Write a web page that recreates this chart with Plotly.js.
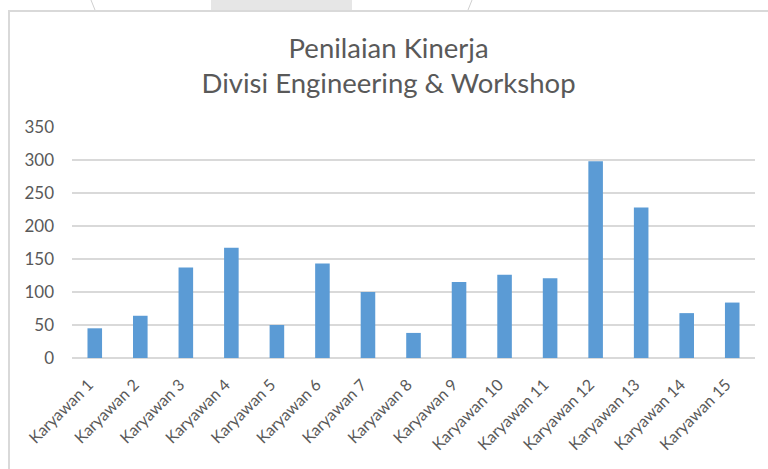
<!DOCTYPE html>
<html>
<head>
<meta charset="utf-8">
<script src="https://cdn.plot.ly/plotly-3.0.1.min.js"></script>
<style>
html,body{margin:0;padding:0;background:#fff;}
#wrap{position:relative;width:768px;height:469px;overflow:hidden;background:#fff;}
#box{position:absolute;left:8px;top:10px;width:800px;height:500px;border-left:2px solid #d9d9d9;border-top:2px solid #d9d9d9;box-sizing:border-box;}
#tab{position:absolute;left:211px;top:0;width:141px;height:10px;background:#e6e6e6;}
#chart{position:absolute;left:0;top:0;width:768px;height:469px;}
</style>
</head>
<body>
<div id="wrap">
  <svg width="768" height="12" style="position:absolute;left:0;top:0">
    <line x1="91" y1="0" x2="95" y2="10" stroke="#cfcfcf" stroke-width="1"/>
    <line x1="472" y1="0" x2="468" y2="10" stroke="#cfcfcf" stroke-width="1"/>
  </svg>
  <div id="tab"></div>
  <div id="box"></div>
  <div id="chart"></div>
</div>
<script>
const categories = ["Karyawan 1","Karyawan 2","Karyawan 3","Karyawan 4","Karyawan 5","Karyawan 6","Karyawan 7","Karyawan 8","Karyawan 9","Karyawan 10","Karyawan 11","Karyawan 12","Karyawan 13","Karyawan 14","Karyawan 15"];
const values = [45, 64, 137, 167, 50, 143, 100, 38, 115, 126, 121, 298, 228, 68, 84];
const yTicks = [0, 50, 100, 150, 200, 250, 300, 350];
const titleLines = ["Penilaian Kinerja", "Divisi Engineering &amp; Workshop"];

const font = "Lato, 'Open Sans', sans-serif";
Plotly.newPlot('chart', [{
  type: 'bar',
  x: categories,
  y: values,
  marker: {color: '#5b9bd5', line: {width: 0}},
  hoverinfo: 'x+y'
}], {
  width: 768, height: 469,
  paper_bgcolor: 'rgba(0,0,0,0)',
  plot_bgcolor: 'rgba(0,0,0,0)',
  margin: {l: 72, r: 13, t: 127, b: 111},
  bargap: 0.68,
  showlegend: false,
  title: {
    text: titleLines.join('<br>'),
    font: {family: font, size: 27.5, color: '#595959'},
    x: 0.506, xanchor: 'center',
    yref: 'container', y: 0.877, yanchor: 'middle'
  },
  xaxis: {
    type: 'category',
    tickangle: -45,
    tickfont: {family: font, size: 16, color: '#595959'},
    showgrid: false, zeroline: false, showline: false,
    ticks: 'outside', ticklen: 10, tickcolor: 'rgba(0,0,0,0)',
    ticklabelshift: -6
  },
  yaxis: {
    range: [0, 350],
    tickvals: yTicks,
    ticktext: yTicks.map(String),
    tickfont: {family: font, size: 17, color: '#595959'},
    gridcolor: '#d9d9d9', gridwidth: 1.5,
    zeroline: true, zerolinecolor: '#d9d9d9', zerolinewidth: 1.5,
    showline: false, ticks: '', ticklabelstandoff: 17
  }
}, {displayModeBar: false, staticPlot: true});
</script>
</body>
</html>
